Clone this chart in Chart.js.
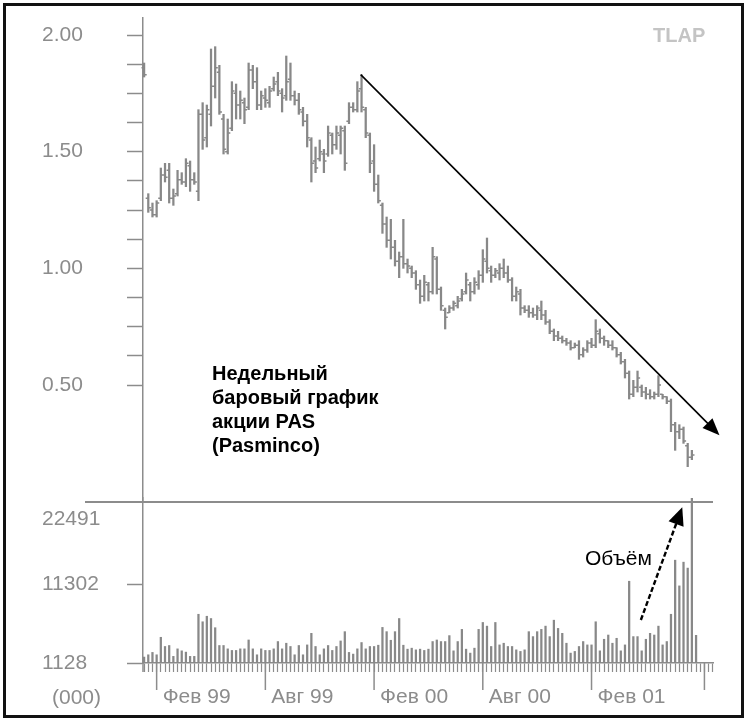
<!DOCTYPE html>
<html>
<head>
<meta charset="utf-8">
<script src="https://cdn.jsdelivr.net/npm/chart.js@4.4.1/dist/chart.umd.min.js"></script>
<style>
html,body{margin:0;padding:0;background:#fff;}
#wrap{position:relative;width:750px;height:722px;overflow:hidden;background:#fff;font-family:"Liberation Sans",Arial,sans-serif;}
canvas{position:absolute;left:0;top:0;}
#frame{position:absolute;left:3px;top:3px;width:735px;height:709px;border:3px solid #111;pointer-events:none;}
#sep{position:absolute;left:85px;top:501px;width:628px;height:1.5px;background:#8c8c8c;}
.t{position:absolute;white-space:nowrap;}
#note{left:212px;top:361px;font-weight:bold;font-size:20px;line-height:24px;color:#000;}
#tlap{left:653px;top:23px;font-weight:bold;font-size:20px;line-height:24px;color:#c4c4c4;}
#vol{left:585px;top:546px;font-size:21px;line-height:24px;color:#000;}
#unit{left:52px;top:685px;font-size:21px;line-height:24px;color:#8c8c8c;}
</style>
</head>
<body>
<div id="wrap">
<canvas id="priceCanvas" width="750" height="722"></canvas>
<canvas id="volCanvas" width="750" height="722"></canvas>
<div id="sep"></div>
<div class="t" id="note">Недельный<br>баровый график<br>акции PAS<br>(Pasminco)</div>
<div class="t" id="tlap">TLAP</div>
<div class="t" id="vol">Объём</div>
<div class="t" id="unit">(000)</div>
<div id="frame"></div>
</div>
<script>
// ---------- DATA (weekly bars) ----------
const highP = [1.88,1.32,1.28,1.29,1.43,1.45,1.45,1.34,1.42,1.41,
1.47,1.46,1.41,1.68,1.71,1.70,1.94,1.95,1.87,1.66,
1.64,1.80,1.79,1.76,1.73,1.88,1.87,1.86,1.76,1.77,
1.78,1.82,1.84,1.77,1.91,1.88,1.76,1.75,1.69,1.66,
1.56,1.52,1.55,1.51,1.61,1.58,1.61,1.61,1.61,1.71,
1.71,1.80,1.83,1.69,1.58,1.53,1.40,1.28,1.22,1.21,
1.12,1.07,1.21,1.04,1.01,0.99,0.95,0.97,0.94,1.09,
1.05,0.92,0.83,0.84,0.86,0.88,0.91,0.98,0.94,0.96,
0.99,1.08,1.13,1.01,1.00,1.02,1.04,1.01,0.96,0.92,
0.91,0.84,0.84,0.83,0.84,0.86,0.82,0.78,0.74,0.73,
0.71,0.70,0.69,0.68,0.69,0.66,0.69,0.70,0.78,0.74,
0.71,0.69,0.69,0.66,0.64,0.61,0.56,0.52,0.56,0.50,
0.49,0.48,0.47,0.54,0.46,0.45,0.44,0.34,0.33,0.32,
0.25,0.22,null];
const lowP = [1.82,1.24,1.22,1.22,1.29,1.37,1.28,1.27,1.31,1.36,
1.35,1.33,1.36,1.29,1.51,1.52,1.61,1.73,1.66,1.49,
1.49,1.59,1.64,1.64,1.62,1.68,1.77,1.68,1.68,1.69,
1.69,1.76,1.74,1.67,1.72,1.72,1.70,1.66,1.61,1.52,
1.37,1.41,1.46,1.41,1.48,1.49,1.51,1.49,1.42,1.62,
1.67,1.67,1.67,1.56,1.41,1.33,1.28,1.15,1.09,1.04,
1.01,0.96,1.00,0.98,0.96,0.91,0.85,0.86,0.86,0.89,
0.89,0.82,0.74,0.81,0.82,0.83,0.86,0.89,0.86,0.89,
0.91,0.94,0.98,0.94,0.96,0.95,0.96,0.94,0.86,0.86,
0.80,0.81,0.79,0.79,0.78,0.78,0.76,0.72,0.69,0.69,
0.68,0.67,0.65,0.66,0.61,0.62,0.64,0.66,0.66,0.68,
0.67,0.66,0.65,0.62,0.59,0.53,0.44,0.45,0.47,0.45,
0.44,0.44,0.44,0.45,0.44,0.42,0.30,0.22,0.27,0.25,
0.15,0.18,null];
const openP = [1.86,1.30,1.25,1.23,1.30,1.40,1.42,1.30,1.32,1.38,
1.37,1.44,1.38,1.33,1.66,1.56,1.66,1.78,1.84,1.64,
1.50,1.60,1.75,1.70,1.71,1.69,1.85,1.80,1.70,1.73,
1.71,1.77,1.80,1.75,1.74,1.81,1.74,1.72,1.67,1.63,
1.55,1.46,1.47,1.49,1.49,1.57,1.53,1.57,1.59,1.63,
1.69,1.68,1.77,1.68,1.57,1.46,1.36,1.27,1.19,1.12,
1.09,1.03,1.05,1.02,1.00,0.98,0.93,0.88,0.93,0.90,
1.04,0.91,0.82,0.81,0.83,0.84,0.87,0.90,0.93,0.90,
0.93,0.97,1.03,0.99,0.97,0.98,1.00,0.98,0.95,0.88,
0.89,0.83,0.82,0.81,0.80,0.82,0.80,0.77,0.73,0.71,
0.70,0.69,0.68,0.66,0.67,0.63,0.65,0.68,0.67,0.72,
0.70,0.69,0.67,0.66,0.63,0.60,0.55,0.46,0.49,0.49,
0.47,0.46,0.45,0.46,0.46,0.45,0.43,0.33,0.30,0.31,
0.24,0.19,null];
const closeP = [1.83,1.26,1.23,1.28,1.40,1.39,1.30,1.31,1.38,1.37,
1.45,1.38,1.37,1.66,1.55,1.68,1.78,1.86,1.67,1.51,
1.58,1.76,1.70,1.72,1.68,1.85,1.80,1.70,1.74,1.72,
1.76,1.79,1.76,1.73,1.80,1.74,1.72,1.68,1.63,1.56,
1.45,1.43,1.50,1.46,1.58,1.53,1.58,1.60,1.45,1.69,
1.68,1.76,1.69,1.58,1.45,1.36,1.29,1.19,1.12,1.09,
1.03,1.05,1.02,1.01,0.98,0.93,0.88,0.94,0.90,1.05,
0.91,0.84,0.79,0.83,0.85,0.86,0.89,0.95,0.90,0.94,
0.97,1.04,1.00,0.97,0.99,1.00,0.98,0.95,0.88,0.90,
0.83,0.82,0.81,0.80,0.83,0.80,0.77,0.73,0.71,0.70,
0.69,0.68,0.66,0.67,0.63,0.65,0.68,0.67,0.73,0.70,
0.69,0.67,0.66,0.63,0.60,0.55,0.46,0.49,0.53,0.47,
0.46,0.45,0.46,0.50,0.45,0.43,0.33,0.30,0.31,0.26,
0.19,0.20,null];
// weekly volume, thousands of shares
const volume = [1896,2190,2498,2190,4456,3266,3394,1986,2958,2702,
2536,1986,1986,7438,6466,7182,6888,5698,3394,3394,
2958,2754,2754,2958,2958,4110,2958,2190,2958,2754,
2754,2958,3906,2958,3688,3266,2190,3394,2190,3470,
4968,3266,2190,2958,3394,2754,3266,3982,5186,2498,
2280,2958,3778,2958,3266,3266,3432,5736,5186,4072,
5186,6888,3432,2920,3048,2830,2920,2754,2920,3906,
4110,3906,3906,4674,2702,3906,5480,2920,2408,3048,
5480,6376,5902,3266,6376,3470,3688,3266,3266,2830,
2626,2830,5186,4546,5186,5480,5902,4546,6670,5608,
4968,3688,2408,2626,3266,3906,3470,3470,6466,2702,
4200,4750,3688,4328,2702,3470,11714,4546,4546,2702,
4200,4968,4750,5902,3470,3906,7438,14440,11112,14184,
13416,22491,4712];
// axis ticks / labels
const priceLabelValues = [0.50, 1.00, 1.50, 2.00];
const priceMinorTicks = [0.5,0.625,0.75,0.875,1.0,1.125,1.25,1.375,1.5,1.625,1.75,1.875,2.0];
const volumeTicks = [1128, 11302, 22491];
const monthTickWeeks = [3, 29, 55, 81, 107, 134];
const monthTickLabels = ['Фев 99','Авг 99','Фев 00','Авг 00','Фев 01',''];
// annotations in data units (week index, value)
const trendFrom = {week: 51.8, price: 1.83};
const trendTo = {week: 137.6, price: 0.285};
const volArrowFrom = {week: 118.8, vol: 6700};
const volArrowTo = {week: 128.7, vol: 21300};

// ---------- setup ----------
const FONT = "'Liberation Sans', Arial, sans-serif";
const GREY = '#8c8c8c';
const BAR = '#888888';
Chart.defaults.font.family = FONT;
const weeks = volume.map((v, i) => i);
const xMin = -0.263, xMax = 136.05;

function arrowHead(ctx, x1, y1, x2, y2, len, half) {
  const a = Math.atan2(y2 - y1, x2 - x1);
  ctx.beginPath();
  ctx.moveTo(x2, y2);
  ctx.lineTo(x2 - len * Math.cos(a) + half * Math.sin(a), y2 - len * Math.sin(a) - half * Math.cos(a));
  ctx.lineTo(x2 - len * Math.cos(a) - half * Math.sin(a), y2 - len * Math.sin(a) + half * Math.cos(a));
  ctx.closePath();
  ctx.fill();
}

const ohlcPlugin = {
  id: 'ohlcTicks',
  afterDatasetsDraw(chart) {
    const meta = chart.getDatasetMeta(0);
    const raw = chart.data.datasets[0].data;
    const y = chart.scales.y;
    const ctx = chart.ctx;
    ctx.save();
    ctx.strokeStyle = BAR; ctx.lineWidth = 1.5;
    ctx.beginPath();
    meta.data.forEach((el, j) => {
      const r = raw[j];
      const yo = y.getPixelForValue(r.o), yc = y.getPixelForValue(r.c);
      ctx.moveTo(el.x - 2.6, yo); ctx.lineTo(el.x, yo);
      ctx.moveTo(el.x, yc); ctx.lineTo(el.x + 2.6, yc);
    });
    ctx.stroke();
    // trend line with arrow
    const xs = chart.scales.x;
    const x1 = xs.getPixelForValue(trendFrom.week), y1 = y.getPixelForValue(trendFrom.price);
    const x2 = xs.getPixelForValue(trendTo.week), y2 = y.getPixelForValue(trendTo.price);
    ctx.strokeStyle = '#000'; ctx.fillStyle = '#000'; ctx.lineWidth = 1.6;
    ctx.beginPath(); ctx.moveTo(x1, y1); ctx.lineTo(x2 - 8, y2 - 8); ctx.stroke();
    arrowHead(ctx, x1, y1, x2, y2, 17, 7);
    ctx.restore();
  }
};

const priceData = weeks.filter(i => highP[i] !== null && highP[i] !== undefined)
  .map(i => ({x: i, y: [lowP[i], highP[i]], o: openP[i], c: closeP[i]}));

new Chart(document.getElementById('priceCanvas'), {
  type: 'bar',
  data: {datasets: [{data: priceData, backgroundColor: BAR, barThickness: 1.6, grouped: false}]},
  options: {
    responsive: false, animation: false, devicePixelRatio: 1,
    layout: {padding: {left: 42, top: 18, right: 37, bottom: 222}},
    plugins: {legend: {display: false}, tooltip: {enabled: false}},
    scales: {
      x: {type: 'linear', min: xMin, max: xMax, offset: false, display: false},
      y: {
        type: 'linear', position: 'left', min: 0.0072, max: 2.0729,
        afterFit: s => { s.width = 101; },
        afterBuildTicks: s => { s.ticks = priceMinorTicks.map(v => ({value: v})); },
        ticks: {
          autoSkip: false, crossAlign: 'far', color: GREY,
          font: {size: 21},
          callback: v => priceLabelValues.some(p => Math.abs(p - v) < 1e-9) ? v.toFixed(2) : ''
        },
        grid: {drawOnChartArea: false, tickLength: 16, tickColor: GREY, tickWidth: 1.5},
        border: {color: GREY, width: 1.5}
      }
    }
  },
  plugins: [ohlcPlugin]
});

const volPlugin = {
  id: 'volExtras',
  afterDraw(chart) {
    const ctx = chart.ctx, xs = chart.scales.x, ys = chart.scales.y;
    const b = chart.chartArea.bottom;
    ctx.save();
    ctx.strokeStyle = GREY; ctx.lineWidth = 1.5;
    ctx.beginPath();
    monthTickWeeks.forEach(w => { const x = xs.getPixelForValue(w); ctx.moveTo(x, b); ctx.lineTo(x, b + 27); });
    ctx.moveTo(chart.chartArea.left, b); ctx.lineTo(chart.chartArea.left, b + 9);
    ctx.stroke();
    // volume arrow (dashed)
    const x1 = xs.getPixelForValue(volArrowFrom.week), y1 = ys.getPixelForValue(volArrowFrom.vol);
    const x2 = xs.getPixelForValue(volArrowTo.week), y2 = ys.getPixelForValue(volArrowTo.vol);
    ctx.strokeStyle = '#000'; ctx.fillStyle = '#000'; ctx.lineWidth = 2.4;
    ctx.setLineDash([5, 2.5]);
    const a = Math.atan2(y2 - y1, x2 - x1);
    ctx.beginPath(); ctx.moveTo(x1, y1); ctx.lineTo(x2 - 12 * Math.cos(a), y2 - 12 * Math.sin(a)); ctx.stroke();
    ctx.setLineDash([]);
    arrowHead(ctx, x1, y1, x2, y2, 18, 8);
    ctx.restore();
  }
};

new Chart(document.getElementById('volCanvas'), {
  type: 'bar',
  data: {datasets: [{data: weeks.map(i => ({x: i, y: volume[i]})), backgroundColor: BAR, barThickness: 1.6, grouped: false}]},
  options: {
    responsive: false, animation: false, devicePixelRatio: 1,
    layout: {padding: {left: 42, top: 498, right: 37, bottom: 0}},
    plugins: {legend: {display: false}, tooltip: {enabled: false}},
    scales: {
      x: {
        type: 'linear', position: 'bottom', min: xMin, max: xMax, offset: false,
        afterFit: s => { s.height = 59; },
        afterBuildTicks: s => {
          const t = [];
          for (let w = 0; w <= Math.floor(xMax); w++) t.push({value: w});
          s.ticks = t;
        },
        ticks: {
          autoSkip: false, maxRotation: 0, minRotation: 0, align: 'start', labelOffset: 6, padding: 13,
          color: GREY, font: {size: 21},
          callback: v => { const k = monthTickWeeks.indexOf(v); return k >= 0 ? monthTickLabels[k] : ''; }
        },
        grid: {drawOnChartArea: false, tickLength: 9, tickColor: GREY, tickWidth: 1.2, offset: false},
        border: {color: GREY, width: 1.5}
      },
      y: {
        type: 'linear', position: 'left', min: 1128, max: 22491,
        afterFit: s => { s.width = 101; },
        afterBuildTicks: s => { s.ticks = volumeTicks.map(v => ({value: v})); },
        ticks: {
          autoSkip: false, crossAlign: 'far', color: GREY,
          font: {size: 21, lineHeight: 1.0},
          callback: v => v === volumeTicks[2] ? ['', '', String(v)] : String(v)
        },
        grid: {
          drawOnChartArea: false, tickLength: 16, tickWidth: 1.5,
          tickColor: c => (c.tick && c.tick.value === volumeTicks[2]) ? 'rgba(0,0,0,0)' : GREY
        },
        border: {color: GREY, width: 1.5}
      }
    }
  },
  plugins: [volPlugin]
});
</script>
</body>
</html>
